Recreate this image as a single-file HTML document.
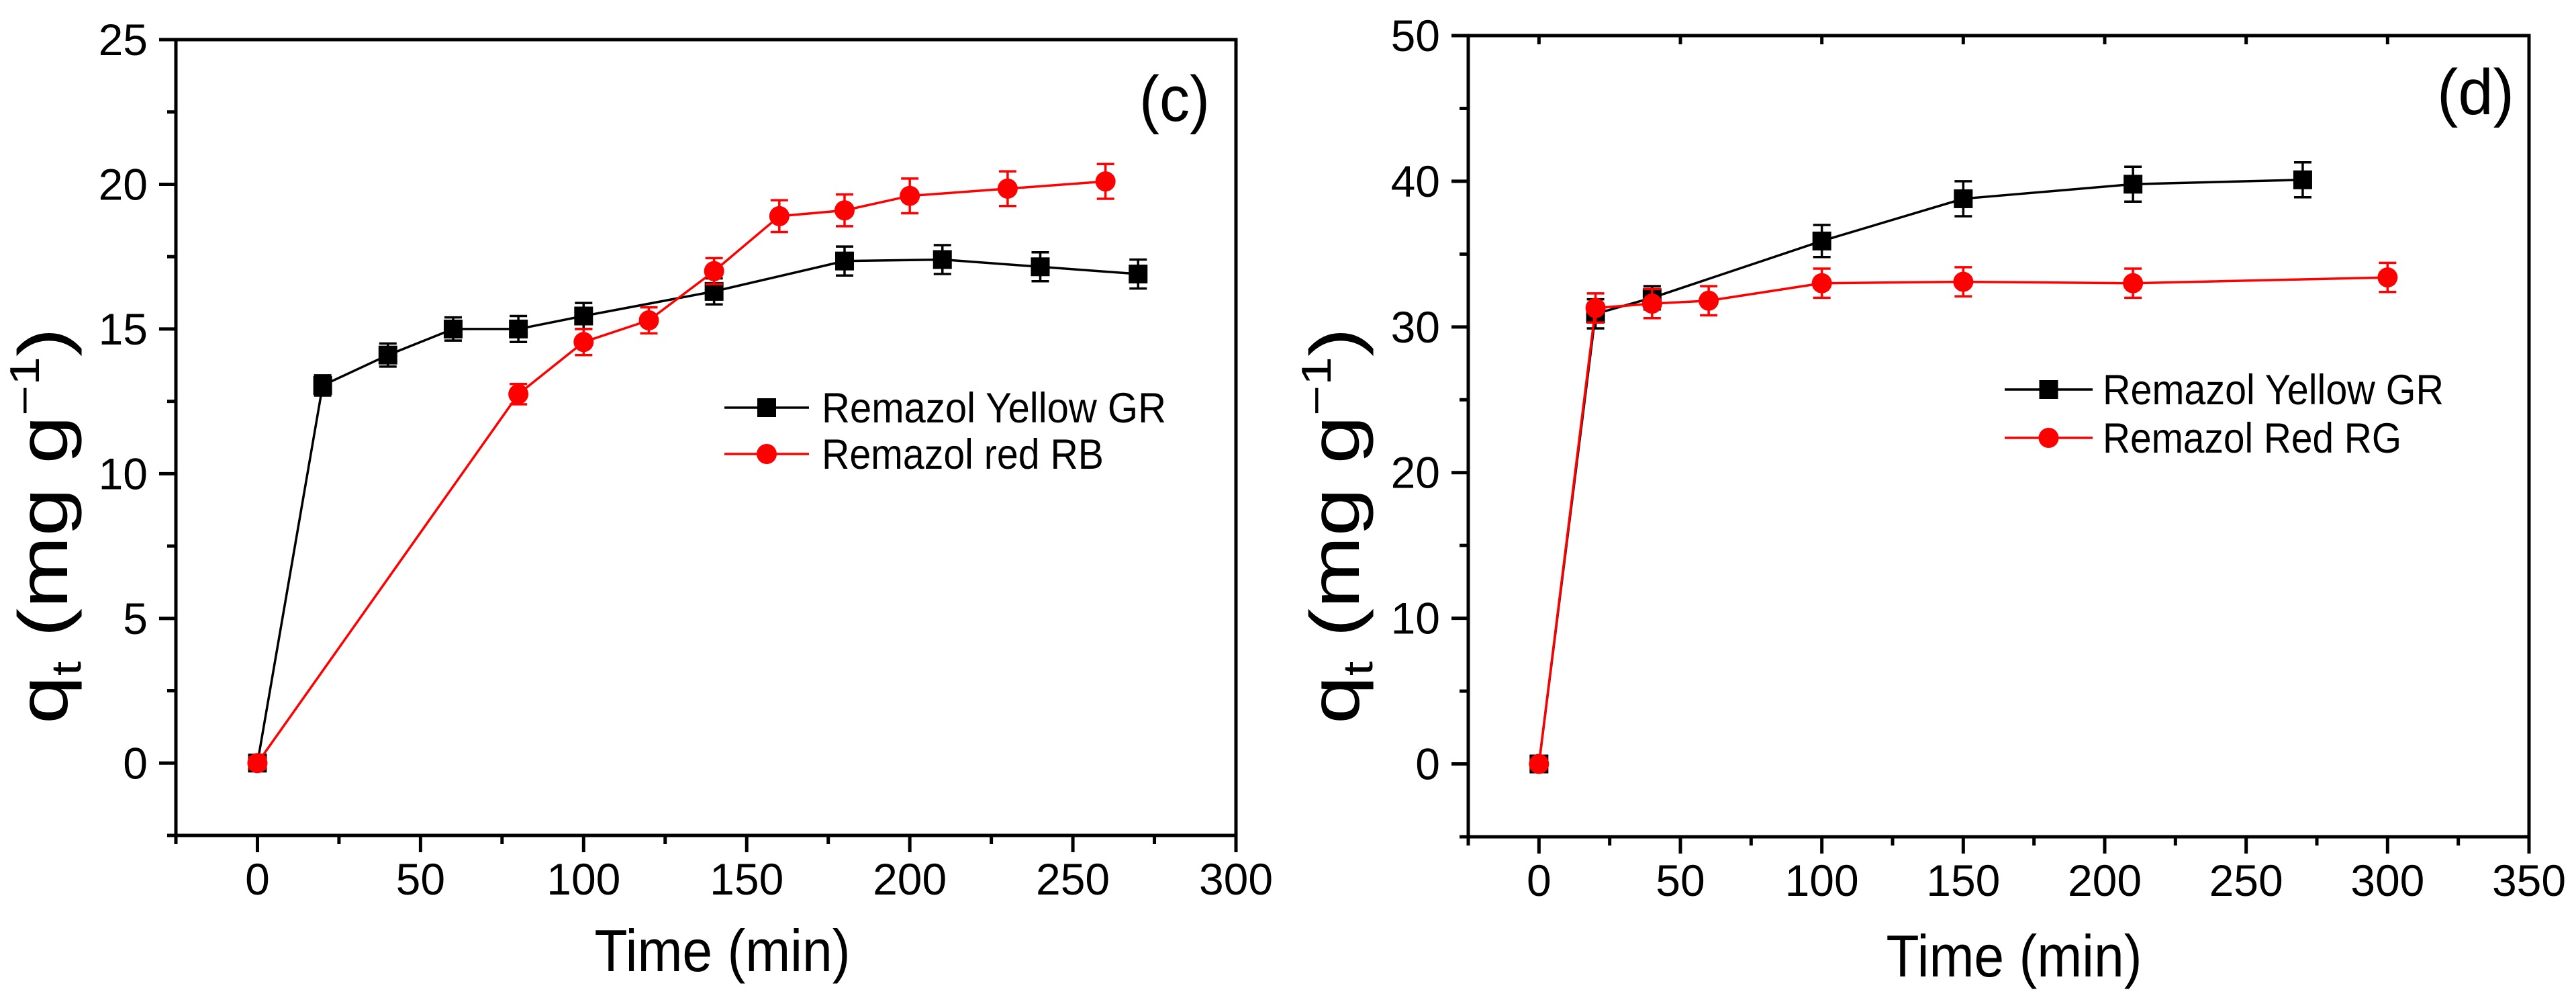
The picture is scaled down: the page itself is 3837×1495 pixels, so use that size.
<!DOCTYPE html>
<html><head><meta charset="utf-8"><style>
html,body{margin:0;padding:0;background:#fff;}
svg{display:block;font-family:"Liberation Sans",Arial,sans-serif;}
</style></head><body>
<svg id="chart" width="3837" height="1495" viewBox="0 0 3837 1495" xmlns="http://www.w3.org/2000/svg"></svg>
<script>
// Panel (c) data
const cYellowT = [0,20,40,60,80,100,140,180,210,240,270];
const cYellowQ = [0,13.05,14.1,15.0,15.0,15.45,16.3,17.35,17.4,17.15,16.9];
const cYellowE = [0.2,0.35,0.4,0.4,0.45,0.45,0.45,0.5,0.5,0.5,0.5];
const cRedT = [0,80,100,120,140,160,180,200,230,260];
const cRedQ = [0,12.75,14.55,15.3,17.0,18.9,19.1,19.6,19.85,20.1];
const cRedE = [0.2,0.35,0.45,0.45,0.45,0.55,0.55,0.6,0.6,0.6];
const cXTicks = [0,50,100,150,200,250,300];
const cYTicks = [0,5,10,15,20,25];
// Panel (d) data
const dYellowT = [0,20,40,100,150,210,270];
const dYellowQ = [0,30.9,32.0,35.9,38.8,39.8,40.1];
const dYellowE = [0.3,1.0,0.8,1.1,1.2,1.2,1.2];
const dRedT = [0,20,40,60,100,150,210,300];
const dRedQ = [0,31.3,31.6,31.8,33.0,33.1,33.0,33.4];
const dRedE = [0.3,1.0,1.0,1.0,1.0,1.0,1.0,1.0];
const dXTicks = [0,50,100,150,200,250,300,350];
const dYTicks = [0,10,20,30,40,50];

const NS="http://www.w3.org/2000/svg";
const svg=document.getElementById('chart');
function mk(tag,attrs,parent){const e=document.createElementNS(NS,tag);for(const k in attrs)e.setAttribute(k,attrs[k]);(parent||svg).appendChild(e);return e;}

function panel(p){
  const g=mk('g',{});
  
  
  const sx=v=>p.L+(v-p.xmin)/(p.xmax-p.xmin)*(p.R-p.L);
  const sy=v=>p.B-(v-p.ymin)/(p.ymax-p.ymin)*(p.B-p.T);
  const fr=mk('rect',{x:p.L,y:p.T,width:p.R-p.L,height:p.B-p.T,fill:'none',stroke:'#000','stroke-width':5},g);
  
  
  for(let v=p.xmin;v<=p.xmax+0.01;v+=p.xstep/2){
    const major=Math.abs(v/p.xstep-Math.round(v/p.xstep))<1e-6;
    mk('line',{x1:sx(v),x2:sx(v),y1:p.B,y2:p.B+(major?25:13),stroke:'#000','stroke-width':5},g);
    if(p.topTicks) mk('line',{x1:sx(v),x2:sx(v),y1:p.T,y2:p.T+(major?13:0),stroke:'#000','stroke-width':5},g);
  }
  p.xticks.forEach(v=>{
    const t=mk('text',{x:sx(v),y:p.B+88,'font-size':66,'text-anchor':'middle'},g);
    t.textContent=v;
    
    
  });
  for(let v=p.ymin;v<=p.ymax+0.01;v+=p.ystep/2){
    const major=Math.abs(v/p.ystep-Math.round(v/p.ystep))<1e-6;
    mk('line',{x1:p.L,x2:p.L-(major?25:13),y1:sy(v),y2:sy(v),stroke:'#000','stroke-width':5},g);
  }
  p.yticks.forEach(v=>{
    const t=mk('text',{x:p.L-42,y:sy(v)+23,'font-size':66,'text-anchor':'end'},g);
    t.textContent=v;
    
    
  });
  const xt=mk('text',{x:p.xtx,y:p.xty,'font-size':88,'text-anchor':'middle',textLength:381,lengthAdjust:'spacingAndGlyphs'},g);
  xt.textContent='Time (min)';
  
  
  const yt=mk('text',{x:0,y:0,'font-size':104,'text-anchor':'middle',textLength:590,lengthAdjust:'spacingAndGlyphs',transform:`translate(${p.ytx},${p.yty}) rotate(-90)`},g);
  yt.innerHTML='q<tspan font-size="62" dy="20">t</tspan><tspan dy="-20"> (mg g</tspan><tspan font-size="62" dy="-42">−1</tspan><tspan dy="42">)</tspan>';
  
  
  const pl=mk('text',{x:p.lblx,y:p.lbly,'font-size':96,textLength:p.lblw,lengthAdjust:'spacingAndGlyphs'},g);
  pl.textContent=p.lbl;
  
  
  p.series.forEach((s,si)=>{
    const sg=mk('g',{},g);
    
    
    const pts=s.t.map((t,i)=>sx(t)+','+sy(s.q[i])).join(' ');
    mk('polyline',{points:pts,fill:'none',stroke:s.color,'stroke-width':3.5},sg);
    s.t.forEach((t,i)=>{
      const x=sx(t),y1=sy(s.q[i]+s.e[i]),y2=sy(s.q[i]-s.e[i]);
      mk('line',{x1:x,x2:x,y1:y1,y2:y2,stroke:s.color,'stroke-width':3.5},sg);
      mk('line',{x1:x-13,x2:x+13,y1:y1,y2:y1,stroke:s.color,'stroke-width':3.5},sg);
      mk('line',{x1:x-13,x2:x+13,y1:y2,y2:y2,stroke:s.color,'stroke-width':3.5},sg);
      let m;
      if(s.shape==='sq') m=mk('rect',{x:x-14,y:sy(s.q[i])-14,width:28,height:28,fill:s.color},sg);
      else m=mk('circle',{cx:x,cy:sy(s.q[i]),r:15,fill:s.color},sg);
      
      
    });
    const lg=mk('g',{},g);
    
    
    const ly=p.legY[si];
    mk('line',{x1:p.legX1,x2:p.legX2,y1:ly,y2:ly,stroke:s.color,'stroke-width':3.5},lg);
    const mx=(p.legX1+p.legX2)/2;
    if(s.shape==='sq') mk('rect',{x:mx-14,y:ly-14,width:28,height:28,fill:s.color},lg);
    else mk('circle',{cx:mx,cy:ly,r:15,fill:s.color},lg);
    const lt=mk('text',{x:p.legTx,y:ly+22,'font-size':63,textLength:s.tl,lengthAdjust:'spacingAndGlyphs'},lg);
    lt.textContent=s.label;
  });
}

panel({name:'panel-c',L:262,R:1841,T:59,B:1244,xmin:-25,xmax:300,ymin:-2.5,ymax:25,xstep:50,ystep:5,
  xticks:cXTicks,yticks:cYTicks,topTicks:false,xtx:1076,xty:1446,ytx:100,yty:783,lbl:'(c)',lblx:1697,lbly:180,lblw:105,
  legX1:1079,legX2:1205,legY:[607,676],legTx:1224,
  series:[{key:'series-yellow-gr',t:cYellowT,q:cYellowQ,e:cYellowE,color:'#000',shape:'sq',label:'Remazol Yellow GR',tl:513},
          {key:'series-red-rb',t:cRedT,q:cRedQ,e:cRedE,color:'#f00',shape:'ci',label:'Remazol red RB',tl:420}]});
panel({name:'panel-d',L:2187,R:3767,T:53,B:1246,xmin:-25,xmax:350,ymin:-5,ymax:50,xstep:50,ystep:10,
  xticks:dXTicks,yticks:dYTicks,topTicks:true,xtx:3000,xty:1454,ytx:2024,yty:783,lbl:'(d)',lblx:3630,lbly:170,lblw:115,
  legX1:2986,legX2:3117,legY:[580,652],legTx:3132,
  series:[{key:'series-yellow-gr',t:dYellowT,q:dYellowQ,e:dYellowE,color:'#000',shape:'sq',label:'Remazol Yellow GR',tl:508},
          {key:'series-red-rg',t:dRedT,q:dRedQ,e:dRedE,color:'#f00',shape:'ci',label:'Remazol Red RG',tl:445}]});
</script>
</body></html>
